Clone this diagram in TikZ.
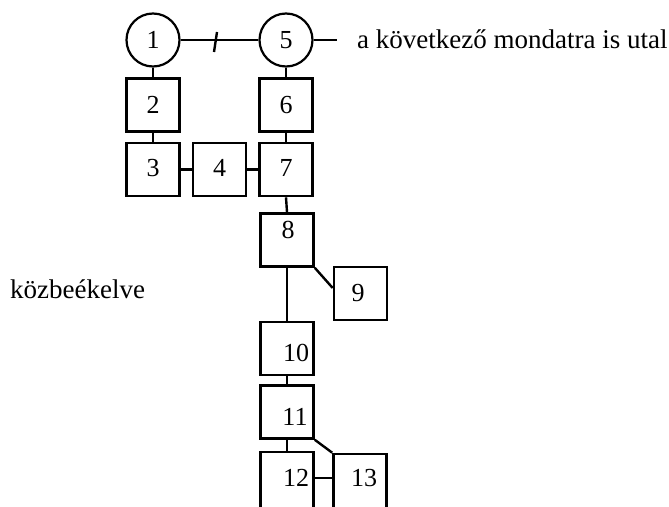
\documentclass[tikz,border=0pt]{standalone}
\usepackage{fontspec}
\setmainfont{Liberation Serif}
\begin{document}
\begin{tikzpicture}[x=1pt,y=-1pt,
  box/.style={draw,line width=2.6pt,minimum width=53pt,minimum height=53pt,inner sep=0pt},
  disc/.style={draw,circle,line width=2.2pt,minimum size=53pt,inner sep=0pt,font=\fontsize{26}{26}\selectfont},
  lab/.style={inner sep=0pt,font=\fontsize{26}{26}\selectfont},
  txt/.style={inner sep=0pt,font=\fontsize{27}{27}\selectfont},
  conn/.style={line width=2.4pt}]
\useasboundingbox (0,0) rectangle (669,506);
\clip (0,0) rectangle (669,506);

% circles
\node[disc] (c1) at (153,40) {1};
\node[disc] (c5) at (286,40) {5};

% boxes of the left column and the bridge
\node[box] (b2) at (153,105) {};
\node[box] (b3) at (153,169.5) {};
\node[box] (b4) at (219.5,169.5) {};
\node[box] (b6) at (286,105) {};
\node[box] (b7) at (286,169.5) {};

% main column
\node[box] (b8) at (287,240) {};
\node[box] (b9) at (360.5,293.5) {};
\node[box] (b10) at (287,348.5) {};
\node[box] (b11) at (287,412) {};
\node[box,minimum height=80pt] (b12) at (287,492) {};
\node[box,minimum height=80pt] (b13) at (360,494) {};

% box numbers
\node[lab] (l2) at (b2) {2};
\node[lab] (l3) at (153,168) {3};
\node[lab] (l4) at (219.5,168) {4};
\node[lab] (l6) at (b6) {6};
\node[lab] (l7) at (286,168) {7};
\node[lab] (l8) at (288,230) {8};
\node[lab] (l9) at (358,293) {9};
\node[lab] (l10) at (296,353) {10};
\node[lab] (l11) at (295,417) {11};
\node[lab] (l12) at (296,478) {12};
\node[lab] (l13) at (364,478) {13};

% connectors
\draw[conn] (c1) -- (c5);
\coordinate (t1) at (217,32);
\coordinate (t2) at (214,52);
\draw[conn] (t1) -- (t2);
\coordinate (e5) at (337,40);
\draw[conn] (c5) -- (e5);
\draw[conn] (c1) -- (b2);
\draw[conn] (b2) -- (b3);
\draw[conn] (b3) -- (b4);
\draw[conn] (b4) -- (b7);
\draw[conn] (c5) -- (b6);
\draw[conn] (b6) -- (b7);
\draw[conn] (b7.south) -- (b8.north);
\draw[conn] (b8.south) -- (b10.north);
\draw[conn] (b8.south east) -- (b9.west |- 0,288);
\draw[conn] (b10) -- (b11);
\draw[conn] (b11.south) -- (b12.north);
\draw[conn] (b11.south east) -- (b13.north west);
\draw[conn] (b12.east |- 0,478) -- (b13.west |- 0,478);

% captions
\node[txt,anchor=base west] (tr) at (357,48) {a következő mondatra is utal};
\node[txt,anchor=base west] (tl) at (10,298) {közbeékelve};
\end{tikzpicture}
\end{document}
